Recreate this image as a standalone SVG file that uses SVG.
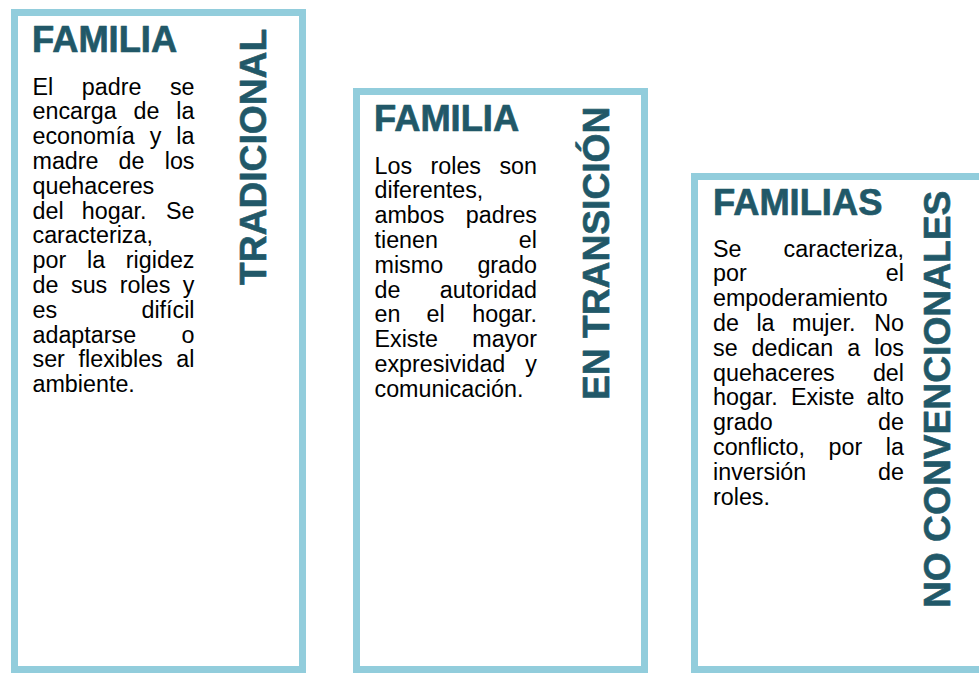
<svg xmlns="http://www.w3.org/2000/svg" width="979" height="673" viewBox="0 0 979 673">
<style>
.box{fill:#ffffff;stroke:#92CDDC;stroke-width:7}
.title{font-family:"Liberation Sans",Arial,sans-serif;font-weight:bold;font-size:36.3px;fill:#215868;stroke:#215868;stroke-width:0.7;stroke-linejoin:round}
.vert{font-family:"Liberation Sans",Arial,sans-serif;font-weight:bold;font-size:37.2px;fill:#215868;stroke:#215868;stroke-width:0.6;stroke-linejoin:round}
.body{font-family:"Liberation Sans",Arial,sans-serif;font-size:23.3px;fill:#000000}
.e{text-anchor:end}
</style>
<rect x="0" y="0" width="979" height="673" fill="#ffffff"/>
<g id="node-tradicional">
<rect class="box" x="14.5" y="12.5" width="288" height="657"/>
<text class="title" x="32" y="52">FAMILIA</text>
<text class="vert" transform="translate(266,285) rotate(-90)">TRADICIONAL</text>
<g class="body">
<text x="32.5" y="94.5">El</text><text x="81.8" y="94.5">padre</text><text class="e" x="194.5" y="94.5">se</text>
<text x="32.5" y="119.3">encarga</text><text x="133.6" y="119.3">de</text><text class="e" x="194.5" y="119.3">la</text>
<text x="32.5" y="144.1">economía</text><text x="149.8" y="144.1">y</text><text class="e" x="194.5" y="144.1">la</text>
<text x="32.5" y="168.9">madre</text><text x="118.6" y="168.9">de</text><text class="e" x="194.5" y="168.9">los</text>
<text x="32.5" y="193.7">quehaceres</text>
<text x="32.5" y="218.5">del</text><text x="81.8" y="218.5">hogar.</text><text class="e" x="194.5" y="218.5">Se</text>
<text x="32.5" y="243.3">caracteriza,</text>
<text x="32.5" y="268.1">por</text><text x="87" y="268.1">la</text><text class="e" x="194.5" y="268.1">rigidez</text>
<text x="32.5" y="292.9">de</text><text x="71" y="292.9">sus</text><text x="119.8" y="292.9">roles</text><text class="e" x="194.5" y="292.9">y</text>
<text x="32.5" y="317.7">es</text><text class="e" x="194.5" y="317.7">difícil</text>
<text x="32.5" y="342.5">adaptarse</text><text class="e" x="194.5" y="342.5">o</text>
<text x="32.5" y="367.3">ser</text><text x="78.6" y="367.3">flexibles</text><text class="e" x="194.5" y="367.3">al</text>
<text x="32.5" y="392.1">ambiente.</text>
</g>
</g>
<g id="node-transicion">
<rect class="box" x="356.5" y="91.5" width="288" height="578"/>
<text class="title" x="374" y="131">FAMILIA</text>
<text class="vert" transform="translate(609,400) rotate(-90)">EN TRANSICIÓN</text>
<g class="body">
<text x="374.5" y="173.5">Los</text><text x="430.5" y="173.5">roles</text><text class="e" x="537" y="173.5">son</text>
<text x="374.5" y="198.3">diferentes,</text>
<text x="374.5" y="223.1">ambos</text><text class="e" x="537" y="223.1">padres</text>
<text x="374.5" y="247.9">tienen</text><text class="e" x="537" y="247.9">el</text>
<text x="374.5" y="272.7">mismo</text><text class="e" x="537" y="272.7">grado</text>
<text x="374.5" y="297.5">de</text><text class="e" x="537" y="297.5">autoridad</text>
<text x="374.5" y="322.3">en</text><text x="426.6" y="322.3">el</text><text class="e" x="537" y="322.3">hogar.</text>
<text x="374.5" y="347.1">Existe</text><text class="e" x="537" y="347.1">mayor</text>
<text x="374.5" y="371.9">expresividad</text><text class="e" x="537" y="371.9">y</text>
<text x="374.5" y="396.7">comunicación.</text>
</g>
</g>
<g id="node-no-convencionales">
<rect class="box" x="694.5" y="176.5" width="300" height="493"/>
<text class="title" x="713" y="215">FAMILIAS</text>
<text class="vert" transform="translate(950,608) rotate(-90)">NO CONVENCIONALES</text>
<g class="body">
<text x="713" y="256.5">Se</text><text class="e" x="904" y="256.5">caracteriza,</text>
<text x="713" y="281.3">por</text><text class="e" x="904" y="281.3">el</text>
<text x="713" y="306.1">empoderamiento</text>
<text x="713" y="330.9">de</text><text x="756.4" y="330.9">la</text><text x="792" y="330.9">mujer.</text><text class="e" x="904" y="330.9">No</text>
<text x="713" y="355.7">se</text><text x="751.6" y="355.7">dedican</text><text x="847.2" y="355.7">a</text><text class="e" x="904" y="355.7">los</text>
<text x="713" y="380.5">quehaceres</text><text class="e" x="904" y="380.5">del</text>
<text x="713" y="405.3">hogar.</text><text x="791" y="405.3">Existe</text><text class="e" x="904" y="405.3">alto</text>
<text x="713" y="430.1">grado</text><text class="e" x="904" y="430.1">de</text>
<text x="713" y="454.9">conflicto,</text><text x="828.5" y="454.9">por</text><text class="e" x="904" y="454.9">la</text>
<text x="713" y="479.7">inversión</text><text class="e" x="904" y="479.7">de</text>
<text x="713" y="504.5">roles.</text>
</g>
</g>
<g id="connectors"/>
</svg>
